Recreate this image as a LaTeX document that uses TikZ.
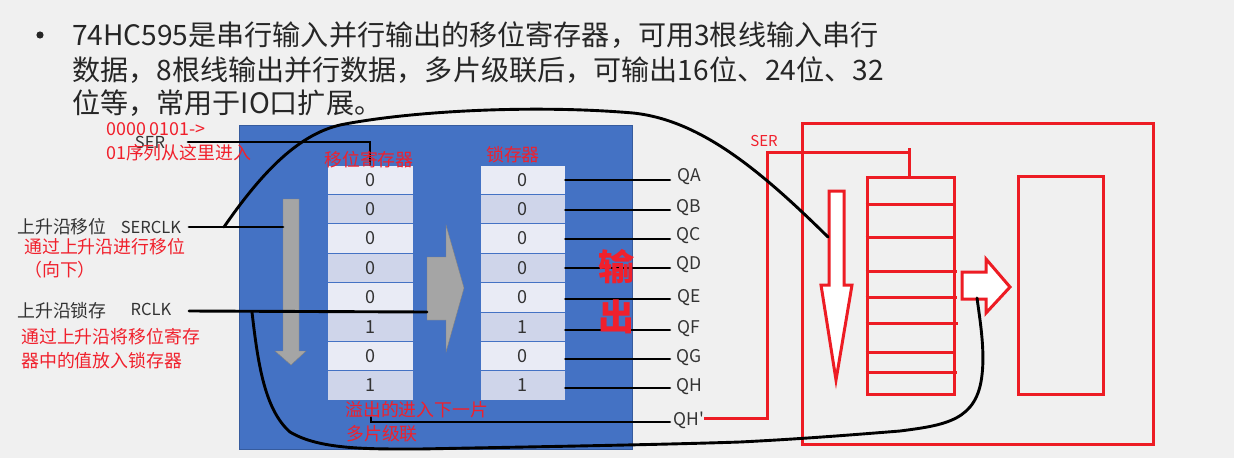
\documentclass[tikz,border=0pt]{standalone}
\usepackage{fontspec}
\setmainfont{Noto Sans CJK SC}
\usepackage{tikz}
\usetikzlibrary{shapes, positioning, arrows.meta, calc}
\definecolor{chipblue}{HTML}{4472C4}
\definecolor{cellA}{HTML}{E9EBF5}
\definecolor{cellB}{HTML}{CFD5EA}
\definecolor{paintred}{HTML}{ED1C24}
\definecolor{notered}{HTML}{F0202C}
\definecolor{arrowgrey}{HTML}{A5A5A5}
\definecolor{pagegrey}{HTML}{F0F0F0}
\definecolor{inkgrey}{HTML}{333333}
\tikzset{
  wire/.style={line width=2.9pt, black, line cap=round},
  redline/.style={line width=3pt, paintred},
  cell/.style={minimum width=86pt, minimum height=29.4pt, inner sep=0pt, draw=chipblue, line width=0.8pt, font=\fontsize{18}{18}\selectfont, text=inkgrey},
  title/.style={anchor=west, inner sep=0pt, font=\fontsize{28.1}{28.1}\selectfont, text=black!85},
  pin/.style={inner sep=0pt, font=\fontsize{16.5}{16.5}\selectfont, text=inkgrey},
  note/.style={inner sep=0pt, text=notered, font=\fontsize{17.9}{17.9}\selectfont},
  qlabel/.style={minimum width=38pt, inner sep=0pt, font=\fontsize{17.5}{17.5}\selectfont, text=inkgrey}
}
\begin{document}
\begin{tikzpicture}[x=1pt, y=-1pt]
    \useasboundingbox (0,0) rectangle (1234,458);
    \fill[pagegrey] (0,0) rectangle (1234,458);

    % heading
    \fill[black!85] (40,35) circle (3.6);
    \node[title] (line1) at (72,35) {74HC595是串行输入并行输出的移位寄存器，可用3根线输入串行};
    \node[title] (line2) at (72,70) {数据，8根线输出并行数据，多片级联后，可输出16位、24位、32};
    \node[title] (line3) at (72,103) {位等，常用于IO口扩展。};

    % chip
    \node[fill=chipblue, draw=chipblue!80!black, minimum width=393pt, minimum height=324pt, inner sep=0pt] (chip) at (435.5,287) {};

    \foreach \i/\v/\c in {1/0/cellA, 2/0/cellB, 3/0/cellA, 4/0/cellB, 5/0/cellA, 6/1/cellB, 7/0/cellA, 8/1/cellB} {
        \node[cell, fill=\c] (S\i) at (370,{179.7+29.4*(\i-1)}) {\v};
        \node[cell, fill=\c, minimum width=85pt] (L\i) at (522.5,{179.7+29.4*(\i-1)}) {\v};
    }

    % grey arrows
    \fill[arrowgrey, draw=gray] (283,199) -- (299,199) -- (299,351) -- (306,351) -- (291,365) -- (275,351) -- (283,351) -- cycle;
    \fill[arrowgrey, draw=gray] (427,257) -- (446,257) -- (446,225) -- (464,288) -- (446,352) -- (446,320) -- (427,320) -- cycle;
    \coordinate (shiftarrow) at (283,227);
    \coordinate (latcharrow) at (427,312);

    % pins
    \node[pin] (ser) at (150,142) {SER};
    \node[pin] (serclk) at (151,227) {SERCLK};
    \node[pin] (rclk) at (151,309) {RCLK};
    \foreach \i/\name/\ly/\wy in {1/QA/177/180, 2/QB/208/210, 3/QC/236/239, 4/QD/265/268, 5/QE/298/299, 6/QF/329/330, 7/QG/358/359, 8/QH/387/388} {
        \node[qlabel] (Q\i) at (689,\ly) {\name};
        \draw[wire] (L\i.east |- 0,\wy) -- (Q\i.west |- 0,\wy);
    }
    \node[qlabel] (Qout) at (689,420) {QH\textquotesingle};

    % wires
    \coordinate (serstart) at (188,142);
    \coordinate (clkstart) at (189,227);
    \coordinate (rclkstart) at (189,311);
    \coordinate (clkbranch) at (224,227);
    \coordinate (rclkbranch) at (252,312);
    \draw[wire] (serstart) -- (370,142) -- (S1.north);
    \draw[wire] (clkstart) -- (shiftarrow);
    \draw[wire] (rclkstart) -- (latcharrow);
    \draw[wire] (S8.south) ++(1,17) |- (Qout.west |- 0,422);

    % text over the chip
    \node[note, anchor=west] (seq) at (106,129) {0000 0101->};
    \node[note, anchor=west] (seqnote) at (106,153) {01序列从这里进入};
    \node[note] (shiftname) at (369,160) {移位寄存器};
    \node[note] (latchname) at (513,155) {锁存器};
    \node[note, anchor=west] (overflow) at (345,410) {溢出的进入下一片};
    \node[note, anchor=west] (cascade) at (346,434) {多片级联};
    \node[note, font=\fontsize{36}{36}\bfseries\selectfont] (out1) at (616,267) {输};
    \node[note, font=\fontsize{36}{36}\bfseries\selectfont] (out2) at (616,317) {出};

    % left notes
    \node[pin, anchor=west, font=\fontsize{17.9}{17.9}\selectfont] (rise1) at (17,227) {上升沿移位};
    \node[note, anchor=west] (rise1a) at (24,247) {通过上升沿进行移位};
    \node[note, anchor=west] (rise1b) at (24,270) {（向下）};
    \node[pin, anchor=west, font=\fontsize{17.9}{17.9}\selectfont] (rise2) at (17,311) {上升沿锁存};
    \node[note, anchor=west] (rise2a) at (21,337) {通过上升沿将移位寄存};
    \node[note, anchor=west] (rise2b) at (21,361) {器中的值放入锁存器};

    % red sketch
    \node[draw=paintred, line width=3pt, minimum width=351pt, minimum height=321pt, inner sep=0pt] (outer) at (977.5,283.5) {};
    \node[draw=paintred, line width=3pt, minimum width=87pt, minimum height=217pt, inner sep=0pt] (regbox) at (910.5,285.5) {};
    \node[draw=paintred, line width=3pt, minimum width=85pt, minimum height=218pt, inner sep=0pt] (latchbox) at (1060.5,285) {};
    \foreach \y/\xe in {204/954, 237/954, 271/957, 297/957, 323/958, 352/954, 372/957} {
        \draw[redline] (regbox.west |- 0,\y) -- (\xe,\y);
    }
    \coordinate (qhpin) at (704,418);
    \coordinate (regin) at (909,148);
    \draw[redline] (qhpin) -- (767,418) -- (767,152) -- (regin |- 0,152);
    \draw[redline] (regin) -- (regbox.north -| regin);
    \node[note, font=\fontsize{15}{15}\selectfont] (serred) at (764,141) {SER};
    \draw[redline, fill=white] (829,191) -- (844,191) -- (844,285) -- (852,285) -- (836,380) -- (821,285) -- (829,285) -- cycle;
    \draw[redline, fill=white] (962,272) -- (986,272) -- (986,259) -- (1010,287) -- (986,313) -- (986,299) -- (962,299) -- cycle;
    \coordinate (shiftsketch) at (828,237);
    \coordinate (latchsketch) at (977,298);

    % freehand links
    \draw[wire] (clkbranch) .. controls (262,172) and (300,132) .. (345,124)
        .. controls (420,110) and (540,105) .. (633,113)
        .. controls (700,120) and (760,170) .. (shiftsketch);
    \draw[wire] (rclkbranch) .. controls (258,365) and (265,410) .. (290,432)
        .. controls (320,450) and (370,449) .. (420,449)
        .. controls (520,447) and (650,445) .. (740,442)
        .. controls (800,439) and (850,435) .. (900,431)
        .. controls (947,425) and (977,420) .. (982,375)
        .. controls (985,350) and (980,320) .. (latchsketch);
\end{tikzpicture}
\end{document}
